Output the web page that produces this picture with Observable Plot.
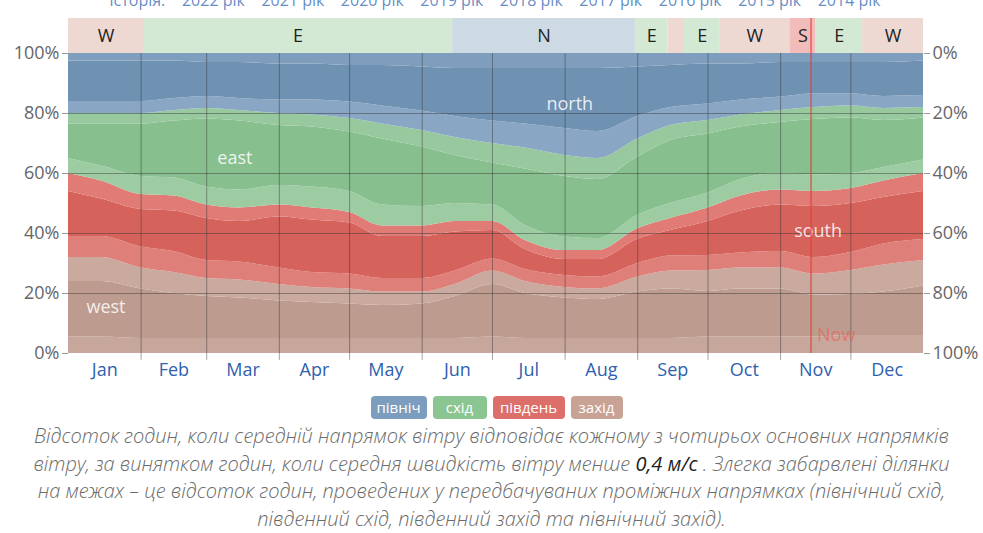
<!DOCTYPE html>
<html><head><meta charset="utf-8">
<script src="https://cdn.jsdelivr.net/npm/d3@7"></script>
<script src="https://cdn.jsdelivr.net/npm/@observablehq/plot@0.6"></script>
<style>
body{margin:0;background:#fff;font-family:"Open Sans",sans-serif;width:983px;overflow:hidden}
#legend{display:flex;justify-content:center;gap:6px;height:23px;margin-top:11px;padding-left:10px}
.lg{color:#fff;font-size:15px;line-height:23px;height:23px;text-align:center;border-radius:4px;opacity:.9}
#caption{margin-top:3px;text-align:center;font-style:italic;color:#6b6b6b;font-size:20px;line-height:27.7px;font-weight:300}
#caption b{color:#222;font-weight:400}
</style></head>
<body><div id="chart"></div><div id="legend"></div>
<div id="caption">
<div>Відсоток годин, коли середній напрямок вітру відповідає кожному з чотирьох основних напрямків</div>
<div>вітру, за винятком годин, коли середня швидкість вітру менше <b>0,4 м/с</b> . Злегка забарвлені ділянки</div>
<div>на межах – це відсоток годин, проведених у передбачуваних проміжних напрямках (північний схід,</div>
<div>південний схід, південний захід та північний захід).</div>
</div>
<script>
// ---- data ----
const sampleDates = ["2023-01-01","2023-01-15","2023-02-01","2023-02-15","2023-03-01","2023-03-15","2023-04-01","2023-04-15","2023-05-01","2023-05-15","2023-06-01","2023-06-15","2023-07-01","2023-07-15","2023-08-01","2023-08-15","2023-09-01","2023-09-15","2023-10-01","2023-10-15","2023-11-01","2023-11-15","2023-12-01","2023-12-15","2024-01-01"];
// total % of hours per cardinal direction
const west  = [32,32,28.5,27,25,24.5,23,22,21.5,20.5,20.5,23,27.5,24,22,21.5,25.5,27.5,27.7,28.5,28.5,26.5,27.7,29.5,31];
const south = [28,25.5,24.5,25.5,24.5,24,26.5,26.5,25.5,22,22,21,16.5,13.7,12.3,12.8,16.1,17.5,20.8,24,26,27.5,27.3,28,29];
const east  = [20,22.5,27,28.5,32.2,32.5,30.5,31,31.3,34,31.8,28,26,30.8,31.7,30.7,29.9,31,29.2,27,26.5,28,27.5,24.2,22];
const north = [20,20,20,19,18.3,19,20,20.5,21.7,23.5,25.7,28,30,31.5,34,35,28.5,24,22.3,20.5,19,18,17.5,18.3,18];
// lightly shaded edges (implied intermediate directions), % of hours
const westLow   = [5.5,5.5,5,5,5,5,5,5,5,5,5,5,5.5,5,5,5,5,5,5.5,5.5,5.5,5.5,6,6,6];
const westHigh  = [8,8,7,7,6,6,5.5,5,5,4.5,4,4,4.5,4,3.5,3.5,5,6,7,7,7,7,8,9,8.5];
const southLow  = [7,7,7,7,6,6,5.5,5,5,4.5,4.5,4.5,4,4,4,4,4.5,5,5,5,5.5,5.5,6,7,7];
const southHigh = [6,6,5,5,4.5,4.5,4,4,3.5,3.5,3.5,3.5,3,3,3,3,3.5,4,4.5,5,5,5,5,5.5,6];
const eastLow   = [5,5,6,6,6,6,6.5,7,7,7,6.5,6,5.5,5,4.5,4,4.5,5,5,5.5,5.5,5.5,5,4.5,4.5];
const eastHigh  = [3.5,3.5,3.5,3.5,3.5,3.5,4,4,4.5,5,5.5,6,6.5,7,7,7,6,5,4.5,4,4,4,4,4,3.5];
const northLow  = [4,4,4,4,4,4,4.5,5,5.5,6,6.5,7,7.5,8,9,9,7.5,6,5.5,5,4.5,4.5,4,4,4];
const northHigh = [2.5,2.5,2.5,2.5,3,3,3.5,3.5,4,4,4.5,5,5,5,5,5,4.5,4,3.5,3.5,3,3,3,3,2.5];

// top strip: dominant direction
const stripDir   = ["W","E","N","E","W","E","W","S","E","W"];
const stripLabel = ["W","E","N","E","","E","W","S","E","W"];
const stripStart = ["2023-01-01","2023-02-02","2023-06-14","2023-08-31","2023-09-14","2023-09-21","2023-10-06","2023-11-05","2023-11-16","2023-12-06"];
const stripEnd   = ["2023-02-02","2023-06-14","2023-08-31","2023-09-14","2023-09-21","2023-10-06","2023-11-05","2023-11-16","2023-12-06","2024-01-01"];

const monthNames = ["Jan","Feb","Mar","Apr","May","Jun","Jul","Aug","Sep","Oct","Nov","Dec"];
const yTicks = [0,20,40,60,80,100];
const dirLabels = ["north","east","south","west"];
const dirLabelDates = ["2023-08-03","2023-03-13","2023-11-17","2023-01-17"];
const dirLabelY = [83,65,40.7,15.3];
const nowDate = "2023-11-14";
const legendNames = ["північ","схід","південь","захід"];
const historyItems = ["Історія:","2022 рік","2021 рік","2020 рік","2019 рік","2018 рік","2017 рік","2016 рік","2015 рік","2014 рік"];

// ---- build ----
const parse = d3.utcParse("%Y-%m-%d");
const dates = sampleDates.map(parse);
const sub = (a, b, c) => a.map((v, i) => v - b[i] - c[i]);
const bands = [
  {name:"wL", v: westLow,   c:"#c7a69b"},
  {name:"wC", v: sub(west, westLow, westHigh), c:"#bd9b8e"},
  {name:"wH", v: westHigh,  c:"#caaa9f"},
  {name:"sL", v: southLow,  c:"#de7f79"},
  {name:"sC", v: sub(south, southLow, southHigh), c:"#d6625c"},
  {name:"sH", v: southHigh, c:"#e07b76"},
  {name:"eL", v: eastLow,   c:"#9dcca3"},
  {name:"eC", v: sub(east, eastLow, eastHigh), c:"#87bf8e"},
  {name:"eH", v: eastHigh,  c:"#98c99e"},
  {name:"nL", v: northLow,  c:"#89a7c5"},
  {name:"nC", v: sub(north, northLow, northHigh), c:"#6f91b2"},
  {name:"nH", v: northHigh, c:"#7f9ebd"}
];
const table = [];
dates.forEach((d, i) => bands.forEach(b => table.push({date: d, band: b.name, value: b.v[i]})));

const strip = stripDir.map((d, i) => ({dir: d, label: stripLabel[i], start: parse(stripStart[i]), end: parse(stripEnd[i])}));
strip.forEach(s => s.mid = new Date((+s.start + +s.end) / 2));
const stripColors = {W:"#eed9d2", E:"#d4e9d4", N:"#cddae4", S:"#f2bcbb"};

const monthStarts = d3.utcMonths(new Date(Date.UTC(2023,1,1)), new Date(Date.UTC(2023,11,2)));
const monthMids = d3.utcMonths(new Date(Date.UTC(2023,0,1)), new Date(Date.UTC(2024,0,1)))
  .map(d => new Date((+d + +d3.utcMonth.offset(d, 1)) / 2));

const labels = dirLabels.map((t, i) => ({t, x: parse(dirLabelDates[i]), y: dirLabelY[i]}));
const now = parse(nowDate);
const stripTop = 111.67;
const topText = historyItems.join("\u00a0\u00a0\u00a0\u00a0");

const chart = Plot.plot({
  width: 983, height: 385,
  marginLeft: 68, marginRight: 60, marginTop: 53, marginBottom: 32,
  x: {type: "utc", domain: [new Date(Date.UTC(2023,0,1)), new Date(Date.UTC(2024,0,1))], label: null},
  y: {domain: [0, 100], label: null},
  color: {domain: bands.map(b => b.name), range: bands.map(b => b.c)},
  style: {fontFamily: "Open Sans, sans-serif", fontSize: "18px", background: "white", overflow: "visible"},
  marks: [
    ...Object.keys(stripColors).map(k =>
      Plot.rect(strip.filter(s => s.dir === k), {x1: "start", x2: "end", y1: 100, y2: stripTop, fill: stripColors[k]})),
    Plot.text(strip, {x: "mid", y: 105.7, text: "label", fill: "#222", fontSize: 18}),
    Plot.text([topText], {x: () => new Date(Date.UTC(2023,6,2)), y: 117.7, text: d => d, fill: "#3a6db5", fontSize: 16, fillOpacity: 0.8}),
    Plot.areaY(table, {x: "date", y: "value", fill: "band", order: bands.map(b => b.name), curve: "monotone-x"}),
    Plot.ruleY([20,40,60,80], {stroke: "#333", strokeOpacity: 0.45}),
    Plot.ruleX(monthStarts, {y1: -2.3, y2: 100, stroke: "#333", strokeOpacity: 0.45}),
    Plot.axisY({anchor: "left", ticks: yTicks, tickFormat: d => d + "%", tickSize: 6, tickPadding: 3, fill: "#666", stroke: "#999", fontSize: 18, label: null}),
    Plot.axisY({anchor: "right", ticks: yTicks, tickFormat: d => (100 - d) + "%", tickSize: 6, tickPadding: 3, fill: "#666", stroke: "#999", fontSize: 18, label: null}),
    Plot.axisX({ticks: monthMids, tickFormat: d => monthNames[d.getUTCMonth()], tickSize: 0, tickPadding: 10, fill: "#2f5fae", fontSize: 18, label: null}),
    Plot.text(labels, {x: "x", y: "y", text: "t", fill: "white", fillOpacity: 0.85, fontSize: 18}),
    Plot.ruleX([now], {y1: 0, y2: stripTop, stroke: "#e0403a", strokeOpacity: 0.75, strokeWidth: 1.5}),
    Plot.text([now], {x: d => d, y: 6, text: () => "Now", dx: 6, textAnchor: "start", fill: "#e5605a", fillOpacity: 0.65, fontSize: 18})
  ]
});
document.getElementById("chart").appendChild(chart);

const legendColors = ["#6f93b8", "#7fbf86", "#d9605a", "#c4998b"];
const legendWidths = [56, 54, 72, 52];
const lg = document.getElementById("legend");
legendNames.forEach((n, i) => {
  const s = document.createElement("span");
  s.className = "lg"; s.textContent = n; s.style.background = legendColors[i];
  s.style.width = legendWidths[i] + "px";
  lg.appendChild(s);
});
</script>
</body></html>
